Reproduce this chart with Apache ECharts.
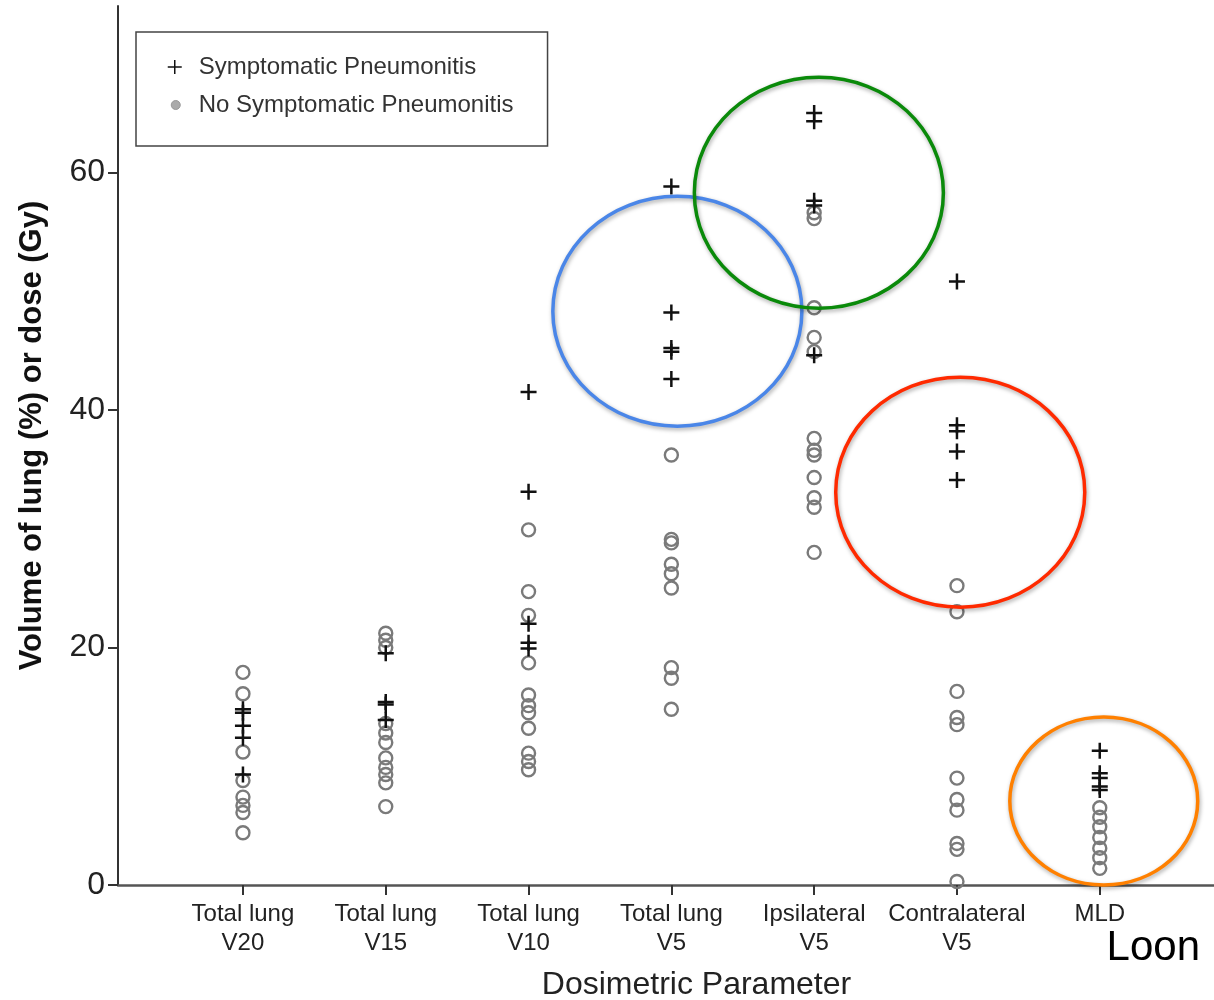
<!DOCTYPE html>
<html><head><meta charset="utf-8">
<script src="https://cdn.jsdelivr.net/npm/echarts@6/dist/echarts.min.js"></script>
<style>html,body{margin:0;padding:0;background:#fff}#chart{width:1214px;height:1000px}</style>
</head><body><div id="chart"></div>
<script>
// ---- data ----
const categories = ['Total lung\nV20', 'Total lung\nV15', 'Total lung\nV10', 'Total lung\nV5', 'Ipsilateral\nV5', 'Contralateral\nV5', 'MLD'];
const categoryPositions = [1, 2, 3, 4, 5, 6, 7];
const yTickValues = [0, 20, 40, 60];

// Symptomatic pneumonitis (+)
const symV20 = [14.8, 14.5, 13.4, 12.4, 9.3];
const symV15 = [19.5, 15.4, 15.2, 13.9];
const symV10 = [41.5, 33.1, 22.0, 20.4, 19.9];
const symV5 = [58.8, 48.2, 45.2, 44.9, 42.6];
const symIpsiV5 = [65.0, 64.3, 57.6, 57.2, 44.6];
const symContraV5 = [50.8, 38.7, 38.2, 36.5, 34.1];
const symMLD = [11.3, 9.4, 9.0, 8.3, 8.0];

// No symptomatic pneumonitis (o)
const noV20 = [17.9, 16.1, 11.2, 8.8, 7.4, 6.7, 6.1, 4.4];
const noV15 = [21.2, 20.6, 20.0, 13.6, 12.8, 12.0, 10.7, 9.9, 9.3, 8.6, 6.6];
const noV10 = [29.9, 24.7, 22.7, 18.7, 16.0, 15.1, 14.5, 13.2, 11.1, 10.4, 9.7];
const noV5 = [36.2, 29.1, 28.8, 27.0, 26.2, 25.0, 18.3, 17.4, 14.8];
const noIpsiV5 = [56.6, 56.1, 48.6, 46.1, 44.9, 37.6, 36.6, 36.2, 34.3, 32.6, 31.8, 28.0];
const noContraV5 = [25.2, 23.0, 16.3, 14.1, 13.5, 9.0, 7.2, 6.3, 3.5, 3.0, 0.3];
const noMLD = [6.5, 5.7, 4.9, 4.0, 3.1, 2.3, 1.4];

const symptomaticByCat = [symV20, symV15, symV10, symV5, symIpsiV5, symContraV5, symMLD];
const noSymptomaticByCat = [noV20, noV15, noV10, noV5, noIpsiV5, noContraV5, noMLD];

// highlight annotations (data-space centre and radii)
const ellipseCenters = [[4.042, 48.3], [5.033, 58.28], [6.023, 33.07], [7.028, 7.07]];
const ellipseRadii = [[0.872, 9.68], [0.872, 9.72], [0.872, 9.68], [0.658, 7.07]];
const ellipseColors = ['#4a86e8', '#0a8a0a', '#ff2a00', '#ff8000'];

// ---- build ----
const symData = [];
symptomaticByCat.forEach((arr, i) => arr.forEach(v => symData.push([categoryPositions[i], v])));
const noData = [];
noSymptomaticByCat.forEach((arr, i) => arr.forEach(v => noData.push([categoryPositions[i], v])));
const ellipseData = ellipseCenters.map((c, i) => [c[0], c[1], ellipseRadii[i][0], ellipseRadii[i][1], i]);

const FONT = '"Liberation Sans", Arial, sans-serif';
const plusSymbol = 'path://M7,0 L7,14 M0,7 L14,7';
const plusIcon = 'path://M0,0 M26,16 M7,1 L7,15 M0,8 L14,8';
const dotIcon = 'path://M0,0 M26,16 M3.5,8 A4.5,4.5 0 1,1 12.5,8 A4.5,4.5 0 1,1 3.5,8 Z';

const chart = echarts.init(document.getElementById('chart'), null, {renderer: 'canvas'});
chart.setOption({
  animation: false,
  backgroundColor: '#fff',
  textStyle: {fontFamily: FONT},
  grid: {left: 118, right: 0, top: 6, bottom: 115, containLabel: false, outerBoundsMode: 'none'},
  legend: {
    orient: 'vertical', left: 136, top: 32,
    padding: [23, 34, 29, 31], itemGap: 14,
    itemWidth: 26, itemHeight: 16,
    borderColor: '#444', borderWidth: 1.5,
    textStyle: {fontSize: 24, color: '#333', lineHeight: 24, fontFamily: FONT},
    data: [
      {name: 'Symptomatic Pneumonitis', icon: plusIcon, itemStyle: {color: '#111', borderColor: '#111', borderWidth: 1.5}},
      {name: 'No Symptomatic Pneumonitis', icon: dotIcon, itemStyle: {color: '#aaa', borderColor: '#999', borderWidth: 1}}
    ]
  },
  xAxis: {
    type: 'value', min: 0.125, max: 7.8,
    splitLine: {show: false},
    axisLine: {lineStyle: {color: '#555', width: 2.5}},
    axisTick: {customValues: categoryPositions, length: 10, lineStyle: {color: '#333', width: 2}},
    axisLabel: {
      customValues: categoryPositions,
      formatter: v => categories[Math.round(v) - 1],
      fontSize: 24, lineHeight: 29, color: '#222', margin: 15, fontFamily: FONT
    },
    name: 'Dosimetric Parameter', nameLocation: 'middle', nameGap: 84,
    nameTextStyle: {fontSize: 32, color: '#222', padding: [0, 0, 0, 61], fontFamily: FONT}
  },
  yAxis: {
    type: 'value', min: 0, max: 74,
    splitLine: {show: false},
    axisLine: {show: true, lineStyle: {color: '#333', width: 2}},
    axisTick: {show: true, customValues: yTickValues, length: 10, lineStyle: {color: '#333', width: 2}},
    axisLabel: {customValues: yTickValues, fontSize: 32, color: '#222', margin: 13, fontFamily: FONT},
    name: 'Volume of lung (%) or dose (Gy)', nameLocation: 'middle', nameGap: 70, nameRotate: 90,
    nameTextStyle: {fontSize: 31, fontWeight: 'bold', color: '#111', padding: [0, 0, 0, 20], fontFamily: FONT}
  },
  series: [
    {
      name: 'No Symptomatic Pneumonitis', type: 'scatter', data: noData,
      symbol: 'circle', symbolSize: 13, z: 2,
      itemStyle: {color: 'rgba(255,255,255,0)', borderColor: '#7a7a7a', borderWidth: 2.4, opacity: 1},
      emphasis: {disabled: true}, silent: true
    },
    {
      name: 'Symptomatic Pneumonitis', type: 'scatter', data: symData,
      symbol: plusSymbol, symbolSize: 16, z: 3,
      itemStyle: {color: '#111', borderColor: '#111', borderWidth: 2.5, opacity: 1},
      emphasis: {disabled: true}, silent: true
    },
    {
      name: 'highlights', type: 'custom', coordinateSystem: 'cartesian2d',
      data: ellipseData, clip: false, z: 10, silent: true,
      renderItem: (params, api) => {
        const p = api.coord([api.value(0), api.value(1)]);
        const s = api.size([api.value(2), api.value(3)]);
        return {
          type: 'ellipse',
          shape: {cx: p[0], cy: p[1], rx: s[0], ry: s[1]},
          style: {fill: 'none', stroke: ellipseColors[api.value(4)], lineWidth: 3.5,
                  shadowBlur: 4, shadowColor: 'rgba(0,0,0,0.35)', shadowOffsetX: 1, shadowOffsetY: 2}
        };
      }
    }
  ],
  graphic: [
    {type: 'text', right: 14, top: 927, style: {text: 'Loon', fontSize: 42, fill: '#000', fontFamily: FONT}}
  ]
});
</script>
</body></html>
